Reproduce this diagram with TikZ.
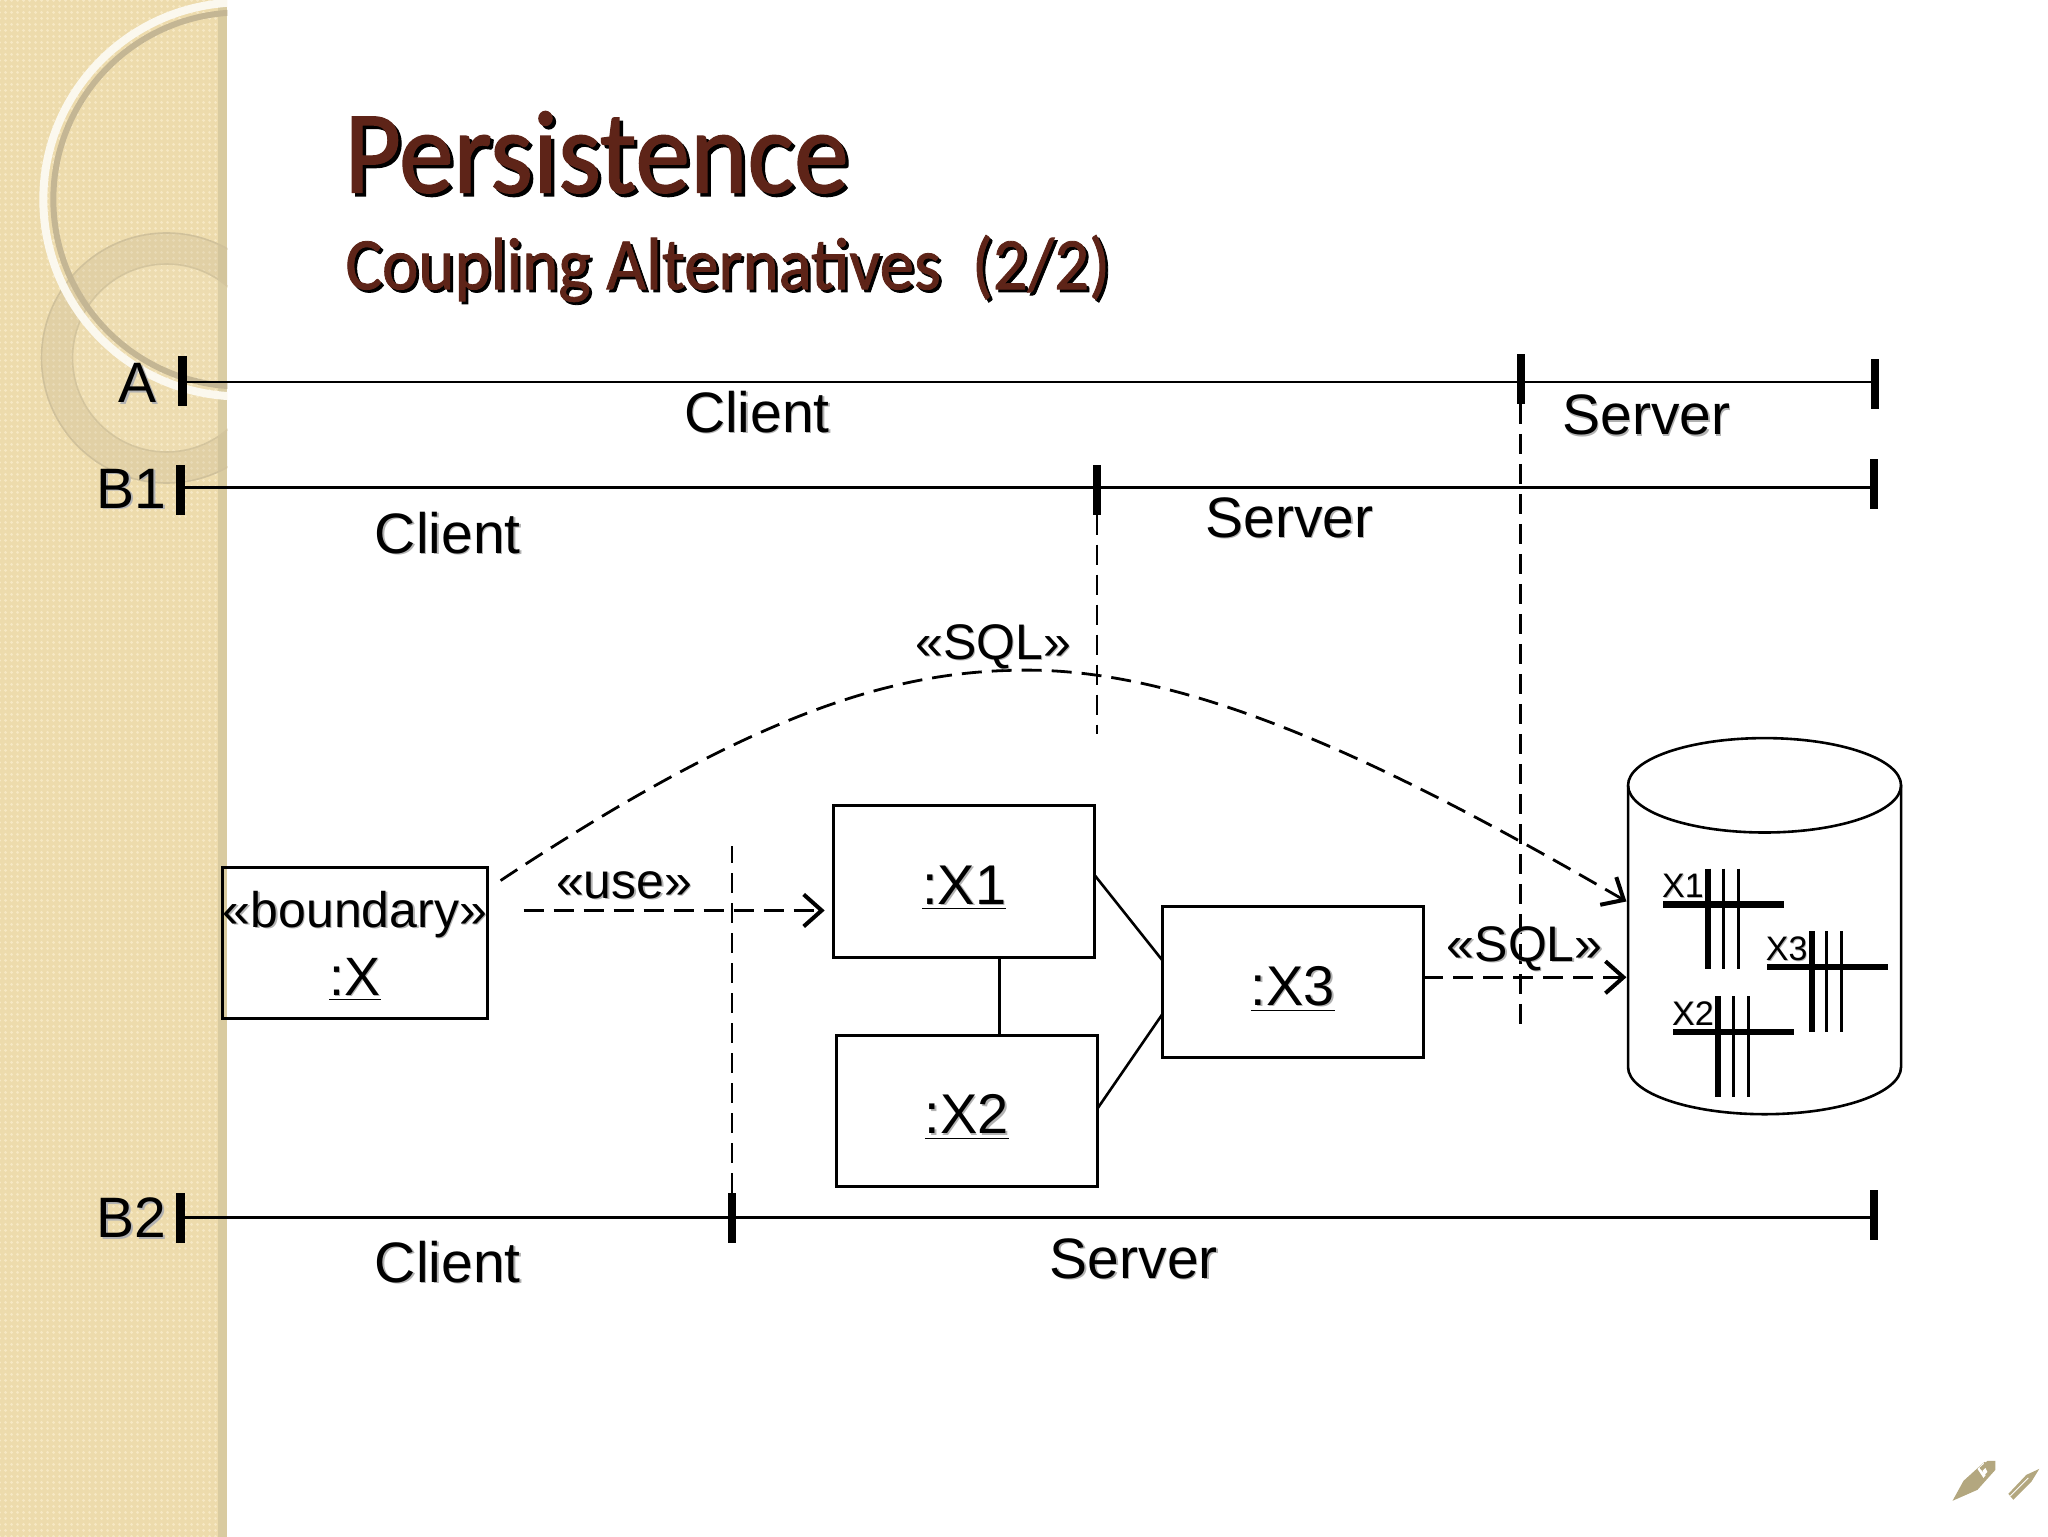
\documentclass[tikz,border=0pt]{standalone}
\usepackage{fontspec}
\setmainfont{Liberation Sans}
\newfontfamily\titlefont[FakeStretch=0.93,FakeBold=1.1]{Carlito}
\usetikzlibrary{positioning, shapes.geometric, arrows.meta, patterns}
\definecolor{sidetan}{HTML}{EDDBAC}
\definecolor{sidecheck}{HTML}{F6E8C4}
\definecolor{sideband}{HTML}{D9CBA0}
\definecolor{ringtan}{HTML}{C4B694}
\definecolor{titlebrown}{HTML}{5E2418}
\definecolor{nibtan}{HTML}{B3A77F}
\pgfdeclarepatternformonly{sidechecks}{\pgfqpoint{-1pt}{-1pt}}{\pgfqpoint{2pt}{2pt}}{\pgfqpoint{3pt}{3pt}}{
    \pgfpathcircle{\pgfqpoint{0.5pt}{0.5pt}}{0.9pt}
    \pgfusepath{fill}
}
\newcommand{\shadowed}[3][gray!60]{\rlap{\kern#2\raisebox{-#2}{\color{#1}#3}}#3}
\newcommand{\objname}[1]{\raisebox{-11.5pt}[0pt][0pt]{\underline{\shadowed{0.7pt}{#1}}}}
\newcommand{\bndline}[1]{\raisebox{-1.5pt}[\height][\depth]{#1}}
\begin{document}
\begin{tikzpicture}[
    x=0.4986pt, y=-0.4986pt,
    >={Straight Barb[length=9pt,width=16pt,line width=2pt]},
    objbox/.style={draw, line width=1.5pt, minimum width=130.5pt, minimum height=75.7pt, inner sep=0pt, outer sep=0pt, font=\fontsize{28}{32}\selectfont},
    tick/.style={fill=black, minimum width=4.2pt, minimum height=25pt, inner sep=0pt, outer sep=0pt},
    lbl/.style={inner sep=0pt, font=\fontsize{28.5}{32}\selectfont},
    stereo/.style={inner sep=0pt, font=\fontsize{25}{30}\selectfont},
    segline/.style={line width=1.4pt},
    cut/.style={line width=1.4pt, dash pattern=on 10pt off 5pt},
    dep/.style={->, line width=1.4pt, dash pattern=on 10pt off 5pt},
    assoc/.style={line width=1.3pt},
]
    \useasboundingbox (0pt,0pt) rectangle (1024pt,-768pt);

    % Side panel
    \fill[sidetan] (0,0) rectangle (219,1541);
    \fill[pattern=sidechecks, pattern color=sidecheck] (0,0) rectangle (219,1541);
    \fill[sideband] (219,0) rectangle (228,1541);
    \begin{scope}
        \clip (0,0) rectangle (228,1541);
        \fill[white, opacity=0.3] (0,0) -- (184,0) arc[start angle=0, end angle=90, radius=92pt] -- cycle;
        \fill[white, opacity=0.05] (167,359) circle[radius=47pt];
        \fill[ringtan, opacity=0.28, even odd rule] (167,359) circle[radius=62.5pt] (167,359) circle[radius=47pt];
        \draw[ringtan!60!sidetan, line width=0.8pt] (167,359) circle[radius=47pt];
        \draw[ringtan!70!sidetan, line width=0.8pt] (167,359) circle[radius=62.5pt];
        \draw[white!80!sidetan, line width=4pt] (241,200) circle[radius=98.5pt];
        \draw[ringtan, line width=3pt] (241,200) circle[radius=93.5pt];
    \end{scope}

    % Title
    \node[anchor=base west, inner sep=0pt, text=titlebrown, font=\titlefont\fontsize{59}{66}\selectfont] (title) at (345,193) {\shadowed[black]{1.7pt}{Persistence}};
    \node[anchor=base west, inner sep=0pt, text=titlebrown, font=\titlefont\fontsize{37}{44}\selectfont] (subtitle) at (346,290) {\shadowed[black]{1.4pt}{Coupling Alternatives\ \ (2/2)}};

    % Ticks of the three splits
    \node[tick] (aL) at (183,382) {};
    \node[tick] (aM) at (1525,380) {};
    \node[tick] (aR) at (1880,385) {};
    \node[tick] (bL) at (181,491) {};
    \node[tick] (bM) at (1100,491) {};
    \node[tick] (bR) at (1879,485) {};
    \node[tick] (cL) at (181,1221) {};
    \node[tick] (cM) at (734,1221) {};
    \node[tick] (cR) at (1879,1218) {};

    \draw[segline] (aL |- 0,383) -- (aR |- 0,383);
    \draw[segline] (bL |- 0,489) -- (bR |- 0,489);
    \draw[segline] (cL |- 0,1221) -- (cR |- 0,1221);

    \node[lbl] (aName) at (138,385) {\shadowed{0.7pt}{A}};
    \node[lbl] (bName) at (132,491) {\shadowed{0.7pt}{B1}};
    \node[lbl] (cName) at (132,1222) {\shadowed{0.7pt}{B2}};

    \node[lbl] (aClient) at (759,414) {\shadowed{0.7pt}{Client}};
    \node[lbl] (aServer) at (1651,417) {\shadowed{0.7pt}{Server}};
    \node[lbl] (bClient) at (449,535) {\shadowed{0.7pt}{Client}};
    \node[lbl] (bServer) at (1293,520) {\shadowed{0.7pt}{Server}};
    \node[lbl] (cClient) at (449,1266) {\shadowed{0.7pt}{Client}};
    \node[lbl] (cServer) at (1137,1263) {\shadowed{0.7pt}{Server}};

    % Objects
    \node[objbox, align=center, minimum width=129.5pt, font=\fontsize{25}{34}\selectfont] (bnd) at (356,945.5) {\bndline{\shadowed{0.7pt}{«boundary»}}\\\fontsize{27}{34}\selectfont\bndline{\underline{\shadowed{0.7pt}{:X}}}};
    \node[objbox] (x1) at (967,884) {\objname{:X1}};
    \node[objbox] (x2) at (969.5,1114) {\objname{:X2}};
    \node[objbox] (x3) at (1296.5,985) {\objname{:X3}};
    \draw[assoc] (x1.south -| 1002,0) -- (x2.north -| 1002,0);
    \draw[assoc] (1098,878) -- (x3.west |- 0,963);
    \draw[assoc] (1101,1111) -- (x3.west |- 0,1017);

    % Database
    \node[ellipse, draw, line width=1.3pt, minimum width=136.5pt, minimum height=47.2pt, inner sep=0pt, outer sep=0pt] (dbTop) at (1769.5,787.5) {};
    \draw[line width=1.3pt] (dbTop.west) -- ++(0,282.5) arc[start angle=180, end angle=360, x radius=68.25pt, y radius=23.6pt] -- (dbTop.east);
    \foreach \tname/\tx/\ty in {X1/1713/907, X2/1723/1035, X3/1817/970} {
        \draw[line width=3.1pt] (\tx-45,\ty) -- (\tx+76,\ty);
        \draw[line width=3.1pt] (\tx,\ty-36) -- (\tx,\ty+65);
        \draw[line width=1.5pt] (\tx+15,\ty-36) -- (\tx+15,\ty+65);
        \draw[line width=1.5pt] (\tx+30,\ty-36) -- (\tx+30,\ty+65);
        \node[anchor=base east, inner sep=0pt, font=\fontsize{17}{18}\selectfont] (t\tname) at (\tx-4,\ty-7) {\shadowed{0.4pt}{\tname}};
    }

    % Dependencies and cut lines
    \coordinate (sqlStart) at (502,883);
    \coordinate (sqlEnd) at (1631,904);
    \coordinate (useStart) at (525,913);
    \coordinate (useEnd) at (827,913);
    \coordinate (jdbcEnd) at (1631,980);
    \coordinate (cutA) at (1525,1032);
    \coordinate (cutB) at (1100,736);
    \coordinate (cutC) at (734,848);

    \draw[cut] (aM.south) -- (cutA);
    \draw[cut] (bM.south) -- (cutB);
    \draw[cut] (cM.north) -- (cutC);
    \draw[dep] (sqlStart) .. controls (760,712) and (900,672) .. (1030,672) .. controls (1200,672) and (1400,770) .. (sqlEnd);
    \draw[dep] (useStart) -- (useEnd);
    \draw[dep] (x3.east |- jdbcEnd) -- (jdbcEnd);

    \node[stereo] (sqlTop) at (996,649) {\shadowed{0.7pt}{«SQL»}};
    \node[stereo] (useLbl) at (626,888) {\shadowed{0.7pt}{«use»}};
    \node[stereo] (sqlLow) at (1529,952) {\shadowed{0.7pt}{«SQL»}};

    % Pen icons
    \begin{scope}[shift={(6,4)}]
        \fill[nibtan] (1952,1501) -- (1963,1481) -- (1984,1462) -- (1993,1466) -- (1994,1471) -- (1977,1490) -- cycle;
        \fill[white] (1977,1469) -- (1983,1463) -- (1988,1472) -- (1983,1478) -- cycle;
        \fill[nibtan] (1979,1468) -- (1987,1461) -- (1995,1461) -- (1995,1470) -- (1987,1477) -- cycle;
        \fill[white] (1982,1471) -- (1985,1468) -- (1987,1472) -- (1984,1475) -- cycle;
        \fill[nibtan] (2039,1469) -- (2026,1475) -- (2008,1494) -- (2013,1500) -- (2031,1482) -- cycle;
        \draw[white, line width=0.4pt] (2010,1496) -- (2028,1478);
    \end{scope}
\end{tikzpicture}
\end{document}
